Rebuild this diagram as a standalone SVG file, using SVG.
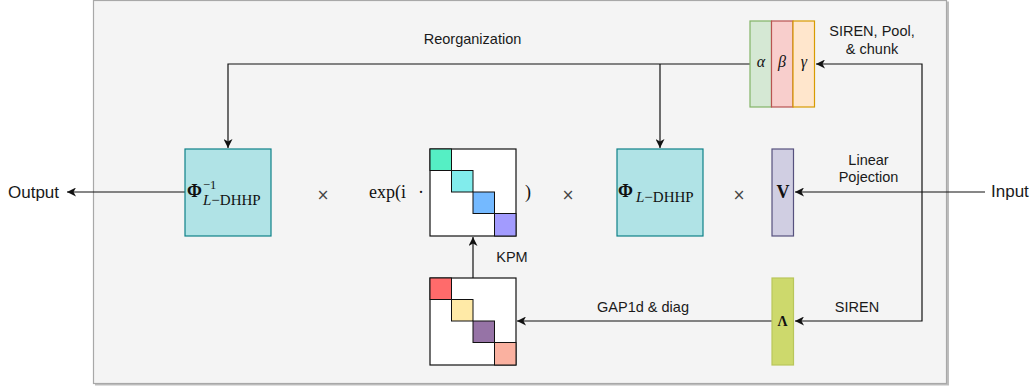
<svg xmlns="http://www.w3.org/2000/svg" width="1036" height="389" viewBox="0 0 1036 389">
<style>
.lbl{font-family:"Liberation Sans",Arial,sans-serif;font-size:14.5px;fill:#1a1a1a}
.big{font-family:"Liberation Sans",Arial,sans-serif;font-size:17px;fill:#1a1a1a}
.m{font-family:"Liberation Serif","DejaVu Serif",serif;fill:#111}
.edge{fill:none;stroke:#111;stroke-width:1.2}
.cell{stroke:#111;stroke-width:1}
.times{font-family:"DejaVu Sans",sans-serif;font-size:15px;fill:#444}
</style>
<defs>
<marker id="arr" markerUnits="userSpaceOnUse" markerWidth="10" markerHeight="9" refX="9" refY="4.5" orient="auto">
<path d="M0,0 L9,4.5 L0,9 L2.5,4.5 Z" fill="#111"/>
</marker>
</defs>
<rect x="95" y="1.5" width="854" height="384" fill="#bdbdbd"/>
<rect id="frame" x="93.5" y="0.5" width="853" height="383" fill="#f4f4f4" stroke="#a8a8a8" stroke-width="1.2"/>
<g id="connectors">
<path class="edge" d="M750,64 H228 V148" marker-end="url(#arr)"/>
<path class="edge" d="M660,64 V148" marker-end="url(#arr)"/>
<path class="edge" d="M985,192 H795" marker-end="url(#arr)"/>
<path class="edge" d="M922,192 V64 H816" marker-end="url(#arr)"/>
<path class="edge" d="M922,192 V321 H795" marker-end="url(#arr)"/>
<path class="edge" d="M772,321 H517" marker-end="url(#arr)"/>
<path class="edge" d="M473,278 V237" marker-end="url(#arr)"/>
<path class="edge" d="M185,192 H67" marker-end="url(#arr)"/>
</g>
<g id="labels">
<text class="lbl" x="472.5" y="44" text-anchor="middle">Reorganization</text>
<text class="lbl" x="872" y="36" text-anchor="middle">SIREN, Pool,</text>
<text class="lbl" x="872" y="54" text-anchor="middle">&amp; chunk</text>
<text class="lbl" x="868.5" y="165" text-anchor="middle">Linear</text>
<text class="lbl" x="868.5" y="182" text-anchor="middle">Pojection</text>
<text class="lbl" x="512" y="262" text-anchor="middle">KPM</text>
<text class="lbl" x="643" y="312" text-anchor="middle">GAP1d &amp; diag</text>
<text class="lbl" x="857" y="312" text-anchor="middle">SIREN</text>
</g>
<g id="output"><text class="big" x="8" y="198">Output</text></g>
<g id="input"><text class="big" x="991" y="197">Input</text></g>
<g id="phi-inv">
<rect x="185" y="149" width="86" height="87" fill="#b0e3e6" stroke="#0e8088" stroke-width="1.2"/>
<text class="m" x="187" y="197" font-size="18" font-weight="bold">Φ</text>
<text class="m" x="203" y="189" font-size="12.5">−1</text>
<text class="m" x="203" y="205" font-size="15"><tspan font-style="italic">L</tspan>−DHHP</text>
</g>
<g id="times1"><text class="times" x="323" y="200" text-anchor="middle">×</text></g>
<g id="exp">
<text class="m" x="369" y="198" font-size="18">exp(i</text>
<text class="m" x="421" y="198" font-size="18" text-anchor="middle">·</text>
<text class="m" x="528" y="198" font-size="18" text-anchor="middle">)</text>
</g>
<g id="phase-matrix">
<rect x="430" y="149" width="86" height="87" fill="#fff" stroke="#111" stroke-width="1.2"/>
<rect class="cell" x="430" y="149" width="21.5" height="21.5" fill="#55efc4"/>
<rect class="cell" x="451.5" y="170.5" width="21.5" height="21.5" fill="#81ecec"/>
<rect class="cell" x="473" y="192" width="21.5" height="21.5" fill="#74b9ff"/>
<rect class="cell" x="494.5" y="213.5" width="21.5" height="22.5" fill="#a29bfe"/>
</g>
<g id="times2"><text class="times" x="568" y="200" text-anchor="middle">×</text></g>
<g id="phi">
<rect x="617" y="149" width="86" height="87" fill="#b0e3e6" stroke="#0e8088" stroke-width="1.2"/>
<text class="m" x="618" y="197" font-size="18" font-weight="bold">Φ</text>
<text class="m" x="636" y="202" font-size="15"><tspan font-style="italic">L</tspan>−DHHP</text>
</g>
<g id="times3"><text class="times" x="739" y="200" text-anchor="middle">×</text></g>
<g id="v">
<rect x="772" y="149" width="21.5" height="87" fill="#d0cee2" stroke="#56517e" stroke-width="1.2"/>
<text class="m" x="783" y="198" font-size="18" font-weight="bold" text-anchor="middle">V</text>
</g>
<g id="abc">
<rect x="750" y="21" width="21.5" height="86" fill="#d5e8d4" stroke="#82b366" stroke-width="1.2"/>
<rect x="771.5" y="21" width="21.5" height="86" fill="#f8cecc" stroke="#b85450" stroke-width="1.2"/>
<rect x="793" y="21" width="21.5" height="86" fill="#ffe6cc" stroke="#d79b00" stroke-width="1.2"/>
<text class="m" x="761" y="67" font-size="16" font-style="italic" text-anchor="middle">α</text>
<text class="m" x="782" y="67" font-size="16" font-style="italic" text-anchor="middle">β</text>
<text class="m" x="804" y="67" font-size="16" font-style="italic" text-anchor="middle">γ</text>
</g>
<g id="lambda">
<rect x="772" y="278" width="21.5" height="87" fill="#cdd96c" stroke="#b9c65a" stroke-width="1.2"/>
<text class="m" x="782.5" y="326" font-size="14" font-weight="bold" text-anchor="middle">Λ</text>
</g>
<g id="diag-matrix">
<rect x="430" y="278" width="86" height="87" fill="#fff" stroke="#111" stroke-width="1.2"/>
<rect class="cell" x="430" y="278" width="21.5" height="21.5" fill="#ff6b6b"/>
<rect class="cell" x="451.5" y="299.5" width="21.5" height="21.5" fill="#ffeaa7"/>
<rect class="cell" x="473" y="321" width="21.5" height="21.5" fill="#9673a6"/>
<rect class="cell" x="494.5" y="342.5" width="21.5" height="22.5" fill="#fab1a0"/>
</g>
</svg>
